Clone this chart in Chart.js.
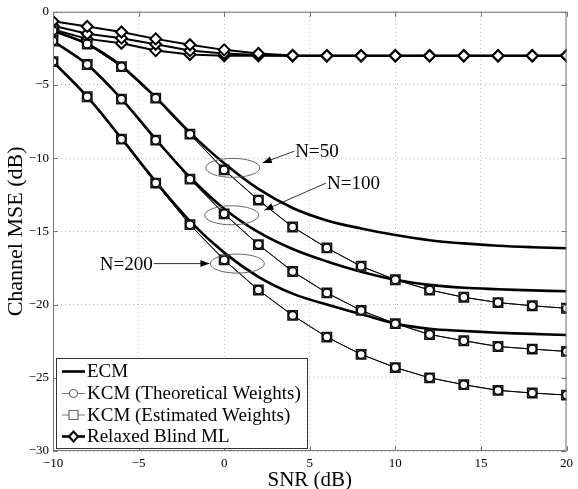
<!DOCTYPE html>
<html>
<head>
<meta charset="utf-8">
<script src="https://cdn.jsdelivr.net/npm/chart.js@4.4.0/dist/chart.umd.min.js"></script>
<style>
  html, body { margin: 0; padding: 0; background: #fff; }
  #wrap { width: 578px; height: 489px; }
</style>
</head>
<body>
<div id="wrap"><canvas id="chart" width="578" height="489"></canvas></div>
<script>
// SNR grid (dB)
const snr = [-10, -8, -6, -4, -2, 0, 2, 4, 6, 8, 10, 12, 14, 16, 18, 20];

// ECM (thick lines)
const ecm50  = [-1.3, -2.2, -3.7, -5.85, -8.25, -10.35, -12.1, -13.4, -14.25, -14.8, -15.25, -15.6, -15.82, -15.98, -16.08, -16.15];
const ecm100 = [-2.0, -3.6, -5.95, -8.7, -11.3, -13.45, -15.05, -16.2, -17.05, -17.75, -18.3, -18.65, -18.85, -18.95, -19.03, -19.09];
const ecm200 = [-3.4, -5.8, -8.65, -11.6, -14.3, -16.45, -18.1, -19.25, -20.0, -20.65, -21.3, -21.65, -21.8, -21.92, -22.0, -22.08];

// KCM, theoretical weights (circles)
const kcmT50  = [-1.3, -2.2, -3.75, -5.9, -8.36, -10.8, -12.86, -14.7, -16.13, -17.38, -18.3, -19.0, -19.5, -19.86, -20.08, -20.25];
const kcmT100 = [-2.0, -3.6, -5.97, -8.77, -11.43, -13.8, -15.9, -17.74, -19.2, -20.4, -21.3, -22.04, -22.47, -22.86, -23.04, -23.2];
const kcmT200 = [-3.4, -5.8, -8.7, -11.7, -14.54, -16.95, -19.0, -20.74, -22.22, -23.4, -24.3, -25.0, -25.47, -25.86, -26.04, -26.18];

// KCM, estimated weights (squares)
const kcmE50  = [-1.3, -2.2, -3.75, -5.9, -8.36, -10.8, -12.86, -14.7, -16.13, -17.38, -18.3, -19.0, -19.5, -19.86, -20.08, -20.25];
const kcmE100 = [-2.0, -3.6, -5.97, -8.77, -11.43, -13.8, -15.9, -17.74, -19.2, -20.4, -21.3, -22.04, -22.47, -22.86, -23.04, -23.2];
const kcmE200 = [-3.4, -5.8, -8.7, -11.7, -14.54, -16.95, -19.0, -20.74, -22.22, -23.4, -24.3, -25.0, -25.47, -25.86, -26.04, -26.18];

// Relaxed Blind ML (diamonds)
const rbml50  = [-0.65, -1.0, -1.38, -1.85, -2.25, -2.6, -2.85, -2.98, -3.0, -3.0, -3.0, -3.0, -3.0, -3.0, -3.0, -3.0];
const rbml100 = [-0.95, -1.5, -1.8, -2.22, -2.65, -2.85, -2.95, -3.0, -3.0, -3.0, -3.0, -3.0, -3.0, -3.0, -3.0, -3.0];
const rbml200 = [-1.2, -1.85, -2.15, -2.65, -2.92, -3.0, -3.0, -3.0, -3.0, -3.0, -3.0, -3.0, -3.0, -3.0, -3.0, -3.0];

// Axis ticks
const xTicks = [-10, -5, 0, 5, 10, 15, 20];
const yTicks = [-30, -25, -20, -15, -10, -5, 0];

const legendLabels = ['ECM', 'KCM (Theoretical Weights)', 'KCM (Estimated Weights)', 'Relaxed Blind ML'];

const SERIF = "'Liberation Serif', 'Times New Roman', serif";

function pts(arr) {
    return snr.map((x, i) => ({ x: x, y: arr[i] }));
}

function ecmSet(arr) {
    return { data: pts(arr), borderColor: '#000', borderWidth: 2.6, pointRadius: 0,
             tension: 0.35, order: 2 };
}
function circleSet(arr) {
    return { data: pts(arr), borderColor: '#000', borderWidth: 0.9, pointStyle: 'circle',
             pointRadius: 4, pointBorderWidth: 1.5, pointBackgroundColor: '#fff',
             pointBorderColor: '#000', order: 0 };
}
function squareSet(arr) {
    return { data: pts(arr), borderColor: '#000', borderWidth: 0.9, pointStyle: 'rect',
             pointRadius: 6.6, pointBorderWidth: 1.5, pointBackgroundColor: '#8a8a8a',
             pointBorderColor: '#111', order: 1 };
}
function diamondSet(arr) {
    return { data: pts(arr), borderColor: '#000', borderWidth: 2, pointStyle: 'rectRot',
             pointRadius: 5.5, pointBorderWidth: 2, pointBackgroundColor: '#fff',
             pointBorderColor: '#000', order: 3 };
}

const fmt = v => (v < 0 ? '\u2212' + Math.abs(v) : String(v));

// frame, inner ticks, annotations and legend
const decorPlugin = {
    id: 'decor',
    afterDatasetsDraw(chart) {
        const ctx = chart.ctx;
        const a = chart.chartArea;
        const xs = chart.scales.x, ys = chart.scales.y;
        ctx.save();

        // frame
        ctx.strokeStyle = '#777';
        ctx.lineWidth = 1;
        ctx.strokeRect(a.left + 0.5, a.top + 0.5, a.right - a.left - 1, a.bottom - a.top - 1);
        // inner ticks
        ctx.beginPath();
        xTicks.forEach(v => {
            const px = Math.round(xs.getPixelForValue(v)) + 0.5;
            ctx.moveTo(px, a.bottom); ctx.lineTo(px, a.bottom - 5);
            ctx.moveTo(px, a.top); ctx.lineTo(px, a.top + 5);
        });
        yTicks.forEach(v => {
            const py = Math.round(ys.getPixelForValue(v)) + 0.5;
            ctx.moveTo(a.left, py); ctx.lineTo(a.left + 5, py);
            ctx.moveTo(a.right, py); ctx.lineTo(a.right - 5, py);
        });
        ctx.stroke();

        // ellipses around the N groups
        const ellipses = [[0.5, -10.66], [0.44, -13.9], [0.77, -17.2]];
        ctx.strokeStyle = '#555';
        ctx.lineWidth = 0.9;
        ellipses.forEach(e => {
            ctx.beginPath();
            ctx.ellipse(xs.getPixelForValue(e[0]), ys.getPixelForValue(e[1]), 27, 9.5, 0, 0, Math.PI * 2);
            ctx.stroke();
        });

        // arrows + labels
        const arrows = [
            { text: 'N=50',  from: [4.1, -9.52],  to: [2.25, -10.32], align: 'left' },
            { text: 'N=100', from: [5.95, -11.7], to: [2.35, -13.55], align: 'left' },
            { text: 'N=200', from: [-4.12, -17.2], to: [-0.86, -17.2], align: 'right' }
        ];
        ctx.font = '19px ' + SERIF;
        ctx.textBaseline = 'middle';
        arrows.forEach(ar => {
            const x0 = xs.getPixelForValue(ar.from[0]), y0 = ys.getPixelForValue(ar.from[1]);
            const x1 = xs.getPixelForValue(ar.to[0]), y1 = ys.getPixelForValue(ar.to[1]);
            ctx.strokeStyle = '#000';
            ctx.lineWidth = 0.8;
            ctx.beginPath(); ctx.moveTo(x0, y0); ctx.lineTo(x1, y1); ctx.stroke();
            const ang = Math.atan2(y1 - y0, x1 - x0);
            ctx.fillStyle = '#000';
            ctx.beginPath();
            ctx.moveTo(x1, y1);
            ctx.lineTo(x1 - 9 * Math.cos(ang) + 3.5 * Math.sin(ang), y1 - 9 * Math.sin(ang) - 3.5 * Math.cos(ang));
            ctx.lineTo(x1 - 9 * Math.cos(ang) - 3.5 * Math.sin(ang), y1 - 9 * Math.sin(ang) + 3.5 * Math.cos(ang));
            ctx.closePath(); ctx.fill();
            ctx.textAlign = ar.align;
            ctx.fillText(ar.text, x0 + (ar.align === 'left' ? 1 : -1), y0 + 1);
        });

        // legend box (lower left, like the original)
        const bx = a.left + 3, by = 358, bw = 251, bh = 90;
        ctx.fillStyle = '#fff';
        ctx.fillRect(bx, by, bw, bh);
        ctx.strokeStyle = '#333';
        ctx.lineWidth = 1;
        ctx.strokeRect(bx + 0.5, by + 0.5, bw, bh);
        const rowY = [371.5, 393.5, 415, 436.5];
        const lx0 = bx + 6, lx1 = bx + 29, mx = (lx0 + lx1) / 2;
        ctx.textAlign = 'left';
        legendLabels.forEach((lab, i) => {
            const y = rowY[i];
            ctx.beginPath();
            ctx.moveTo(lx0, y); ctx.lineTo(lx1, y);
            if (i === 0 || i === 3) { ctx.strokeStyle = '#000'; ctx.lineWidth = 2.6; }
            else { ctx.strokeStyle = '#777'; ctx.lineWidth = 1; }
            ctx.stroke();
            ctx.beginPath();
            if (i === 1) {
                ctx.arc(mx, y, 4, 0, Math.PI * 2);
                ctx.fillStyle = '#fff'; ctx.fill(); ctx.strokeStyle = '#666'; ctx.lineWidth = 1.2; ctx.stroke();
            } else if (i === 2) {
                ctx.rect(mx - 4.5, y - 4.5, 9, 9);
                ctx.fillStyle = '#fff'; ctx.fill(); ctx.strokeStyle = '#666'; ctx.lineWidth = 1.2; ctx.stroke();
            } else if (i === 3) {
                ctx.moveTo(mx, y - 5); ctx.lineTo(mx + 4.5, y); ctx.lineTo(mx, y + 5); ctx.lineTo(mx - 4.5, y);
                ctx.closePath();
                ctx.fillStyle = '#fff'; ctx.fill(); ctx.strokeStyle = '#000'; ctx.lineWidth = 2; ctx.stroke();
            }
            ctx.fillStyle = '#000';
            ctx.fillText(lab, lx1 + 2, y + 1);
        });
        ctx.restore();
    }
};

const ctx = document.getElementById('chart');
new Chart(ctx, {
    type: 'line',
    data: {
        datasets: [
            circleSet(kcmT50), circleSet(kcmT100), circleSet(kcmT200),
            squareSet(kcmE50), squareSet(kcmE100), squareSet(kcmE200),
            ecmSet(ecm50), ecmSet(ecm100), ecmSet(ecm200),
            diamondSet(rbml50), diamondSet(rbml100), diamondSet(rbml200)
        ]
    },
    options: {
        responsive: false,
        animation: false,
        devicePixelRatio: 1,
        layout: { padding: { top: 10, right: 5, left: 0, bottom: 0 } },
        plugins: { legend: { display: false }, tooltip: { enabled: false } },
        elements: { line: { fill: false } },
        scales: {
            x: {
                type: 'linear', min: -10, max: 20,
                afterFit: s => { s.height = 38; },
                afterBuildTicks: s => { s.ticks = xTicks.map(v => ({ value: v })); },
                grid: { color: '#bdbdbd', lineWidth: 1, drawTicks: false, borderDash: [1, 3] },
                border: { display: false, dash: [1, 3] },
                ticks: { callback: fmt, color: '#000', padding: 5, maxRotation: 0,
                         font: { family: SERIF, size: 13 } },
                title: { display: true, text: 'SNR (dB)', color: '#000', padding: { top: 0, bottom: -4 },
                         font: { family: SERIF, size: 21 } }
            },
            y: {
                type: 'linear', min: -30, max: 0,
                afterFit: s => { s.width = 53; },
                afterBuildTicks: s => { s.ticks = yTicks.map(v => ({ value: v })); },
                grid: { color: '#bdbdbd', lineWidth: 1, drawTicks: false, borderDash: [1, 3] },
                border: { display: false, dash: [1, 3] },
                ticks: { callback: fmt, color: '#000', padding: 4,
                         font: { family: SERIF, size: 13 } },
                title: { display: true, text: 'Channel MSE (dB)', color: '#000', padding: { top: 3, bottom: 0 },
                         font: { family: SERIF, size: 22 } }
            }
        }
    },
    plugins: [decorPlugin]
});
</script>
</body>
</html>
